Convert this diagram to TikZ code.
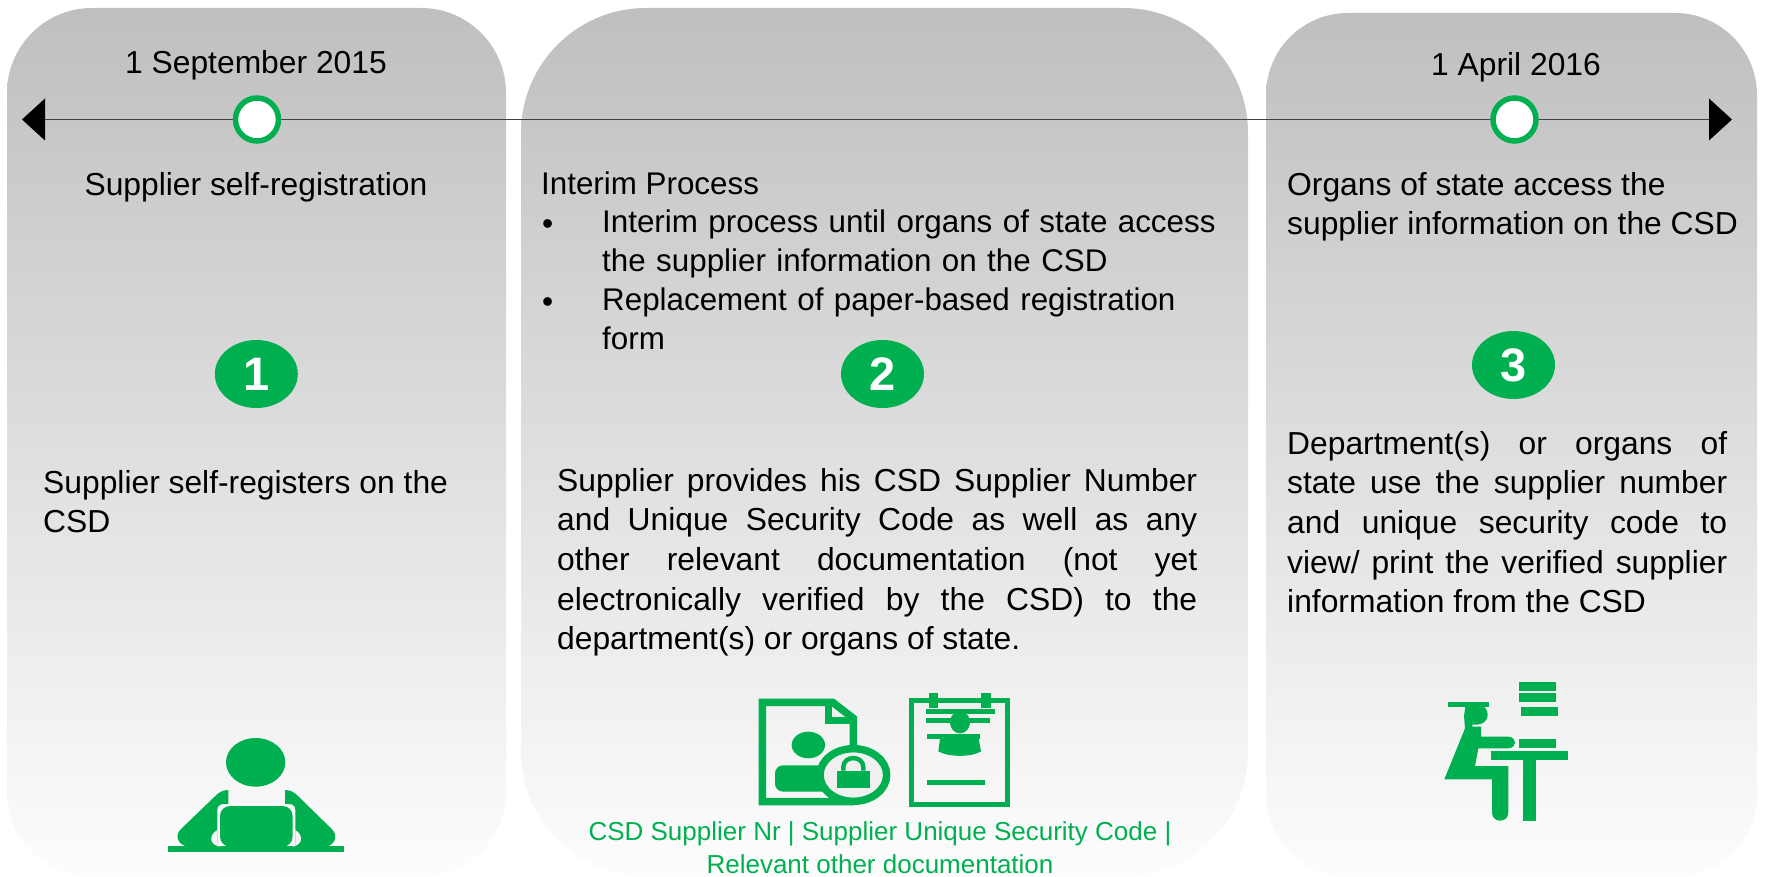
\documentclass[tikz,border=0pt]{standalone}
\usepackage{fontspec}
\usetikzlibrary{shapes.geometric}
\setmainfont{Liberation Sans}
\definecolor{gr}{HTML}{00B050}
\definecolor{panelTop}{HTML}{BFBFBF}
\definecolor{panelBot}{HTML}{FDFDFD}
\newcommand{\mainsz}{\fontsize{31.8}{39.6}\selectfont}
\newcommand{\listsz}{\fontsize{31.35}{38.9}\selectfont}
\tikzset{
  panelbox/.style={top color=panelTop,bottom color=panelBot,draw=none},
  ringnode/.style={circle,draw=gr,line width=5.5pt,fill=white,minimum size=43pt,inner sep=0pt},
  badge/.style={ellipse,fill=gr,text=white,minimum width=83pt,minimum height=68pt,inner sep=0pt,font=\fontsize{47}{50}\selectfont\bfseries},
  txt/.style={inner sep=0pt,font=\mainsz,text=black},
  para/.style={txt,anchor=north west,align=justify},
  lft/.style={txt,anchor=north west,align=left},
  listtxt/.style={lft,font=\listsz},
  iconz/.style={x=0.33333pt,y=-0.33333pt}
}
\begin{document}
\begin{tikzpicture}[x=1pt,y=-1pt]
\useasboundingbox (0,0) rectangle (1767,877);
% panels
\shade[panelbox,rounded corners=85pt] (7,8) rectangle (506,877);
\shade[panelbox,rounded corners=125pt] (521,8) rectangle (1248,877);
\shade[panelbox,rounded corners=82pt] (1266,13) rectangle (1757,877);
% timeline
\coordinate (tl) at (45,119.5);
\coordinate (tr) at (1709,119.5);
\draw[black!75,line width=1pt] (tl) -- (tr);
\node[ringnode] (r1) at (257,119.5) {};
\node[ringnode] (r2) at (1514.5,119.5) {};
\fill[black] (tl) ++(0,-21) -- ++(-23,21) -- ++(23,21) -- cycle;
\fill[black] (tr) ++(0,-21) -- ++(23,21) -- ++(-23,21) -- cycle;
% top labels
\node[txt] (d1) at (256,65.5) {1 September 2015};
\node[txt] (d3) at (1516,67) {1 April 2016};
\node[txt] (s1) at (256,187.5) {Supplier self-registration};
% panel 2 head
\node[listtxt] (h2) at (541,172) {Interim Process};
\node[txt,anchor=north west] (b1) at (542,219) {•};
\node[listtxt,text width=630pt] (t1) at (602,210) {Interim process until organs of state access\\the supplier information on the CSD};
\node[txt,anchor=north west] (b2) at (542,297) {•};
\node[listtxt,text width=630pt] (t2) at (602,288) {Replacement of paper-based registration\\form};
% panel 3 head
\node[lft] (h3) at (1287,172) {Organs of state access the\\supplier information on the CSD};
% badges
\node[badge] (n1) at (256.3,374) {1};
\node[badge] (n2) at (882.5,374) {2};
\node[badge] (n3) at (1513.5,365) {3};
% bodies
\node[lft] (p1) at (43,470) {Supplier self-registers on the\\CSD};
\node[para,text width=640pt] (p2) at (557,468) {\tolerance=9999\emergencystretch=200pt Supplier provides his CSD Supplier Number\linebreak and Unique Security Code as well as any\linebreak other relevant documentation (not yet\linebreak electronically verified by the CSD) to the\linebreak department(s) or organs of state.};
\node[para,text width=440pt] (p3) at (1287,431) {\tolerance=9999\emergencystretch=200pt Department(s) or organs of\linebreak state use the supplier number\linebreak and unique security code to\linebreak view/ print the verified supplier\linebreak information from the CSD};
% caption
\node[txt,text=gr,align=center,font=\fontsize{26}{32.7}\selectfont] (cap) at (880,848) {CSD Supplier Nr | Supplier Unique Security Code |\\Relevant other documentation};
% person icon
\begin{scope}[shift={(130,720)},iconz]
  \fill[gr] (377,127) ellipse [x radius=89,y radius=73];
  \fill[gr] (115,379) rectangle (643,395);
  \fill[gr,rounded corners=10] (270,258) rectangle (488,380);
  \fill[gr] (295,210) .. controls (280,210) and (268,216) .. (258,226) -- (152,328) .. controls (135,345) and (140,372) .. (172,380) -- (262,380) -- (262,270) .. controls (262,258) and (270,252) .. (280,252) -- (295,252) -- cycle;
  \fill[gr] (465,210) .. controls (480,210) and (492,216) .. (502,226) -- (606,328) .. controls (623,345) and (618,372) .. (590,380) -- (496,380) -- (496,270) .. controls (496,258) and (488,252) .. (478,252) -- (465,252) -- cycle;
  \fill[white!96!black] (262,330) .. controls (235,345) and (238,378) .. (272,379) -- (262,379) -- cycle;
  \fill[white!96!black] (496,330) .. controls (522,345) and (518,378) .. (486,379) -- (496,379) -- cycle;
\end{scope}
% document icon
\begin{scope}[shift={(740,680)},iconz]
  \draw[gr,line width=7.5pt,line join=miter] (340,215) -- (340,115) -- (278,67) -- (67,67) -- (67,365) -- (340,365);
  \draw[gr,line width=7.5pt] (265,67) -- (265,122) -- (340,122);
  \fill[gr] (205,195) ellipse [x radius=50,y radius=40];
  \fill[gr,rounded corners=8] (105,335) -- (105,256) -- (270,256) -- (270,335) -- cycle;
  \filldraw[draw=gr,line width=7.5pt,fill=white!94!black] (340,285) ellipse [x radius=100,y radius=79];
  \fill[gr] (291,272) rectangle (390,325);
  \draw[gr,line width=4.5pt] (310,272) -- (310,262) .. controls (310,225) and (370,225) .. (370,262) -- (370,272);
\end{scope}
% clipboard icon
\begin{scope}[shift={(740,680)},iconz]
  \draw[gr,line width=5pt] (515,60) rectangle (801,373);
  \fill[gr] (566,40) rectangle (594,84);
  \fill[gr] (724,40) rectangle (752,84);
  \fill[gr] (660,95) .. controls (640,95) and (628,112) .. (630,130) .. controls (632,145) and (642,160) .. (660,160) .. controls (678,160) and (688,145) .. (690,130) .. controls (692,112) and (680,95) .. (660,95) -- cycle;
  \fill[gr] (600,177) -- (595,214) .. controls (625,232) and (695,232) .. (723,214) -- (716,177) -- cycle;
  \fill[gr] (558,87) rectangle (765,102);
  \fill[gr] (558,114) rectangle (750,129);
  \fill[gr] (561,162) rectangle (720,177);
  \fill[gr] (561,300) rectangle (735,315);
\end{scope}
% desk icon
\begin{scope}[shift={(1420,660)},iconz]
  \fill[gr] (297,66) rectangle (408,92);
  \fill[gr] (297,99) rectangle (408,125);
  \fill[gr] (303,141) rectangle (414,167);
  \fill[gr] (297,237) rectangle (408,263);
  \fill[gr] (214,273) rectangle (443,301);
  \fill[gr] (308,301) rectangle (348,482);
  \fill[gr] (85,126) rectangle (206,140);
  \fill[gr] (136,140) -- (192,140) .. controls (210,155) and (208,192) .. (170,194) -- (157,194) -- (157,200) -- (183,200) -- (183,230) -- (265,230) .. controls (292,232) and (292,263) .. (265,265) -- (175,265) -- (165,318) -- (265,318) -- (265,458) .. controls (265,490) and (216,490) .. (216,458) -- (216,358) -- (73,358) -- (135,205) -- (132,168) -- cycle;
\end{scope}
\end{tikzpicture}
\end{document}
